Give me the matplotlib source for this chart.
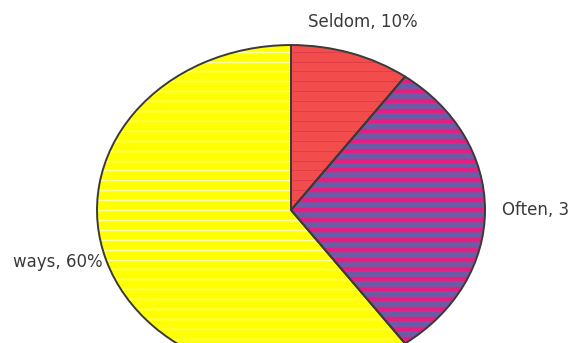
import numpy as np
import matplotlib.pyplot as plt
from matplotlib.patches import PathPatch
from matplotlib.transforms import Bbox, TransformedBbox

categories = ["Seldom", "Often", "Always"]
shares = [10, 30, 60]

face_colors = ["#f24c4c", "#6b5ca6", "#ffff00"]
stripe_colors = ["#dc3c46", "#e41e80", "#ffffa8"]
stripe_widths = [0.6, 3.2, 1.0]
stripe_gap = 0.06
label_dist = [1.2, 1.09, 1.02]

fig = plt.figure(figsize=(5.70, 3.43), dpi=100)
ax = fig.add_axes([0, 0, 1, 1])

wedges, _ = ax.pie(
    shares,
    startangle=90,
    counterclock=False,
    colors=face_colors,
    wedgeprops=dict(edgecolor="none", linewidth=0),
)

# horizontal stripes clipped to each slice, outline drawn on top
ys = np.arange(-1.2, 1.2, stripe_gap)
for w, col, lw in zip(wedges, stripe_colors, stripe_widths):
    lines = ax.hlines(ys, -1.2, 1.2, colors=col, linewidth=lw, zorder=w.get_zorder() + 0.1)
    lines.set_clip_path(w)
    edge = PathPatch(w.get_path(), transform=w.get_transform(), fill=False,
                     edgecolor="#3a3a3a", linewidth=1.4, zorder=w.get_zorder() + 0.2)
    ax.add_patch(edge)

# left margin where the leftmost label gets cut
label_clip = TransformedBbox(Bbox([[12 / 570, 0], [1, 1]]), ax.transAxes)

for w, name, val, r in zip(wedges, categories, shares, label_dist):
    mid = np.deg2rad((w.theta1 + w.theta2) / 2)
    x, y = r * np.cos(mid), r * np.sin(mid)
    ha = "center" if abs(x) < 0.5 else ("left" if x > 0 else "right")
    t = ax.text(x, y, f"{name}, {val}%", ha=ha, va="center",
                fontsize=12, color="#3a3a3a", family="DejaVu Sans")
    t.set_clip_box(label_clip)
    t.set_clip_on(True)

ax.set_aspect("auto")
ax.set_xlim(-1.5, 1.438)
ax.set_ylim(-0.806, 1.273)
ax.axis("off")

fig.savefig("out.png", dpi=100)
